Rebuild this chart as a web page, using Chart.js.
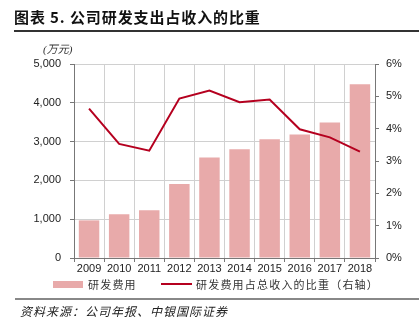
<!DOCTYPE html>
<html>
<head>
<meta charset="utf-8">
<script src="https://cdn.jsdelivr.net/npm/chart.js@4/dist/chart.umd.min.js"></script>
<style>
  html,body{margin:0;padding:0;background:#fff;}
  #wrap{position:relative;width:419px;height:335px;overflow:hidden;font-family:"Noto Sans CJK SC","Liberation Sans",sans-serif;}
  #c{position:absolute;left:0;top:0;}
  .t{position:absolute;white-space:nowrap;color:#333;}
</style>
</head>
<body>
<div id="wrap">
  <canvas id="c" width="419" height="335"></canvas>
  <div class="t" id="title" style="left:14px;top:6px;font-size:15px;font-weight:bold;color:#111;letter-spacing:0.9px;">图表 5. 公司研发支出占收入的比重</div>
  <div style="position:absolute;left:14px;top:30px;width:405px;height:2px;background:#333;"></div>
  <div class="t" style="left:43px;top:40px;font-size:11px;font-style:italic;font-family:'Liberation Serif','Noto Sans CJK SC',serif;">(万元)</div>
  <div style="position:absolute;left:53px;top:281px;width:30px;height:7px;background:#E8AAAA;"></div>
  <div class="t" style="left:88px;top:276px;font-size:11px;letter-spacing:1.2px;">研发费用</div>
  <div style="position:absolute;left:161px;top:283px;width:31px;height:2px;background:#B5001F;"></div>
  <div class="t" style="left:196px;top:276px;font-size:11px;letter-spacing:1.2px;">研发费用占总收入的比重（右轴）</div>
  <div style="position:absolute;left:15px;top:298px;width:404px;height:2px;background:#888;"></div>
  <div class="t" style="left:20px;top:302px;font-size:12px;font-style:italic;letter-spacing:1px;color:#222;">资料来源：公司年报、中银国际证券</div>
</div>
<script>
const categories = ['2009','2010','2011','2012','2013','2014','2015','2016','2017','2018'];
const rdExpense = [970, 1130, 1230, 1910, 2590, 2800, 3060, 3180, 3490, 4480];
const rdRatio = [4.62, 3.53, 3.32, 4.93, 5.18, 4.82, 4.90, 3.98, 3.73, 3.29];
const leftTicks = [0, 1000, 2000, 3000, 4000, 5000];
const rightTicks = [0, 1, 2, 3, 4, 5, 6];

const tickFont = {family: "'Liberation Sans', Arial, sans-serif", size: 11};

new Chart(document.getElementById('c'), {
  data: {
    labels: categories,
    datasets: [
      {
        type: 'line', label: '研发费用占总收入的比重（右轴）', data: rdRatio, yAxisID: 'y2',
        borderColor: '#B5001F', borderWidth: 2, pointRadius: 0, tension: 0, order: 0
      },
      {
        type: 'bar', label: '研发费用', data: rdExpense, yAxisID: 'y',
        backgroundColor: '#E8AAAA', categoryPercentage: 1, barPercentage: 0.68, order: 1
      }
    ]
  },
  options: {
    responsive: false, animation: false,
    layout: {padding: {left: 0, right: 0, top: 64, bottom: 57}},
    plugins: {legend: {display: false}, tooltip: {enabled: false}},
    scales: {
      x: {
        offset: true,
        grid: {offset: true, color: '#d0d0d0', borderDash: [1, 3], drawTicks: true, tickLength: 4, tickColor: '#777', tickBorderDash: []},
        border: {display: true, color: '#777'},
        ticks: {font: tickFont, color: '#222', padding: 0, maxRotation: 0},
        afterFit: s => { s.height = 20; }
      },
      y: {
        position: 'left', min: 0, max: 5000,
        afterBuildTicks: s => { s.ticks = leftTicks.map(v => ({value: v})); },
        grid: {color: '#d0d0d0', borderDash: [1, 3], tickLength: 4, tickColor: '#777', tickBorderDash: []},
        border: {display: true, color: '#777'},
        ticks: {font: tickFont, color: '#222', padding: 9, callback: v => v.toLocaleString('en-US')},
        afterFit: s => { s.width = 74; }
      },
      y2: {
        position: 'right', min: 0, max: 6,
        afterBuildTicks: s => { s.ticks = rightTicks.map(v => ({value: v})); },
        grid: {drawOnChartArea: false, tickLength: 4, tickColor: '#777'},
        border: {display: true, color: '#777'},
        ticks: {font: tickFont, color: '#222', padding: 7, callback: v => v + '%'},
        afterFit: s => { s.width = 44; }
      }
    }
  }
});
</script>
</body>
</html>
